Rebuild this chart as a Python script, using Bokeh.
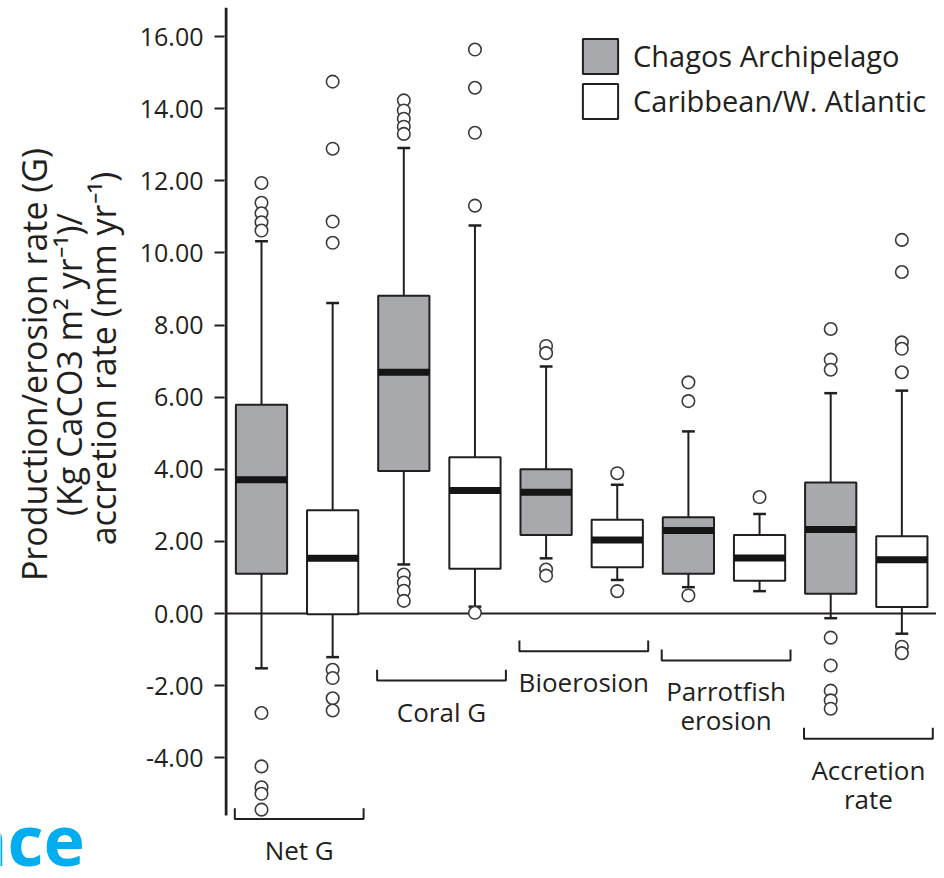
import math
from bokeh.plotting import figure
from bokeh.layouts import row
from bokeh.models import (ColumnDataSource, Range1d, FixedTicker, NumeralTickFormatter,
                          Span, Legend, LegendItem)
from bokeh.core.properties import value
from bokeh.embed import file_html
from bokeh.resources import INLINE

# ---------------- data ----------------
groups = ["Net G", "Coral G", "Bioerosion", "Parrotfish\nerosion", "Accretion\nrate"]
series = ["Chagos Archipelago", "Caribbean/W. Atlantic"]

chagos_low = [-1.52, 1.36, 1.53, 0.73, -0.13]
chagos_q1 = [1.10, 3.95, 2.18, 1.10, 0.55]
chagos_med = [3.71, 6.69, 3.36, 2.30, 2.33]
chagos_q3 = [5.79, 8.81, 4.00, 2.67, 3.63]
chagos_high = [10.32, 12.91, 6.85, 5.05, 6.11]
chagos_out = [
    [11.94, 11.39, 11.10, 10.85, 10.62, -2.76, -4.24, -4.82, -5.00, -5.44],
    [14.23, 13.95, 13.72, 13.50, 13.30, 1.08, 0.86, 0.63, 0.35],
    [7.42, 7.22, 1.22, 1.05],
    [6.41, 5.89, 0.50],
    [7.89, 7.04, 6.76, -0.67, -1.44, -2.14, -2.41, -2.64],
]

carib_low = [-1.21, 0.19, 0.93, 0.62, -0.56]
carib_q1 = [-0.02, 1.24, 1.28, 0.91, 0.18]
carib_med = [1.53, 3.41, 2.04, 1.54, 1.49]
carib_q3 = [2.86, 4.33, 2.60, 2.18, 2.14]
carib_high = [8.61, 10.76, 3.57, 2.76, 6.18]
carib_out = [
    [14.75, 12.89, 10.87, 10.28, -1.56, -1.79, -2.35, -2.69],
    [15.64, 14.58, 13.33, 11.31, 0.02],
    [3.89, 0.62],
    [3.23],
    [10.36, 9.47, 7.52, 7.34, 6.69, -0.92, -1.10],
]

y_ticks = [-4, -2, 0, 2, 4, 6, 8, 10, 12, 14, 16]
axis_extent = [-5.6, 16.8]
y_title = ["Production/erosion rate (G)", "(Kg CaCO3 m\u00b2 yr\u207b\u00b9)/",
           "accretion rate (mm yr\u207b\u00b9)"]
watermark = "nce"

# ---------------- layout / style ----------------
DARK = "#231f20"
GREY = "#a7a9ac"
FONT = "Open Sans"
PX_X = 71.15           # pixels per x unit
PX_Y = 36.06           # pixels per y unit
BOX_W = 0.72
CAP_W = 0.09
bracket_levels = [-5.70, -1.86, -1.05, -1.30, -3.47]
bracket_tick = 0.30
bracket_half = 0.905
first_off = 31 / PX_Y
line_step = 29 / PX_Y

H = 870
W_TOTAL = 936
W_SIDE = 130
W_MAIN = W_TOTAL - W_SIDE
FRAME_LEFT = 224
BORDER = FRAME_LEFT - W_SIDE
x0 = 1 - (261 - FRAME_LEFT) / PX_X
x1 = x0 + (W_MAIN - BORDER) / PX_X
y_top = 613 / PX_Y
y_bot = y_top - H / PX_Y

# ---------- side panel: axis title lines and watermark ----------
side = figure(width=W_SIDE, height=H, output_backend="svg", toolbar_location=None,
              x_range=Range1d(0, W_SIDE), y_range=Range1d(0, H),
              x_axis_location=None, y_axis_location=None,
              min_border_left=0, min_border_right=0, min_border_top=0, min_border_bottom=0)
side.outline_line_color = None
side.xgrid.grid_line_color = None
side.ygrid.grid_line_color = None
side.text(x=[33, 68, 102], y=[H - 364, H - 364, H - 358], text=y_title, angle=math.pi / 2,
          text_font=value(FONT), text_font_size="34px", text_color=DARK,
          text_align="center", text_baseline="middle")
side.text(x=[-39], y=[H - 838], text=[watermark], text_font=value(FONT),
          text_font_style="bold", text_font_size="70px", text_color="#00aeef",
          text_align="left", text_baseline="alphabetic")

# ---------- main plot ----------
p = figure(width=W_MAIN, height=H, output_backend="svg", toolbar_location=None,
           x_range=Range1d(x0, x1), y_range=Range1d(y_bot, y_top),
           x_axis_location=None, y_axis_location="left",
           min_border_left=BORDER, min_border_right=0, min_border_top=0, min_border_bottom=0)
p.outline_line_color = None
p.xgrid.grid_line_color = None
p.ygrid.grid_line_color = None

ax = p.yaxis[0]
ax.ticker = FixedTicker(ticks=y_ticks)
ax.formatter = NumeralTickFormatter(format="0.00")
ax.axis_line_color = None
ax.major_tick_out = 10
ax.major_tick_in = 0
ax.major_tick_line_width = 2
ax.major_tick_line_color = DARK
ax.minor_tick_line_color = None
ax.major_label_text_font = FONT
ax.major_label_text_font_size = "25px"
ax.major_label_text_color = DARK
ax.major_label_standoff = 11

p.add_layout(Span(location=0, dimension="width", line_color=DARK, line_width=2, level="underlay"))

ax_x = x0 + 1.5 / PX_X
p.segment(x0=[ax_x], y0=[axis_extent[0]], x1=[ax_x], y1=[axis_extent[1]],
          line_color=DARK, line_width=3)


def boxes(offset, low, q1, med, q3, high, outs, fill):
    xs = [2 * i + offset for i in range(len(groups))]
    src = ColumnDataSource(dict(x=xs, low=low, q1=q1, med=med, q3=q3, high=high,
                                l=[x - BOX_W / 2 for x in xs], r=[x + BOX_W / 2 for x in xs],
                                cl=[x - CAP_W for x in xs], cr=[x + CAP_W for x in xs]))
    p.segment(x0="x", y0="q3", x1="x", y1="high", source=src, line_color=DARK, line_width=2)
    p.segment(x0="x", y0="q1", x1="x", y1="low", source=src, line_color=DARK, line_width=2)
    p.segment(x0="cl", y0="high", x1="cr", y1="high", source=src, line_color=DARK, line_width=2.5)
    p.segment(x0="cl", y0="low", x1="cr", y1="low", source=src, line_color=DARK, line_width=2.5)
    r = p.vbar(x="x", width=BOX_W, bottom="q1", top="q3", source=src,
               fill_color=fill, line_color=DARK, line_width=2)
    p.segment(x0="l", y0="med", x1="r", y1="med", source=src, line_color="#151515",
              line_width=7, line_cap="butt")
    ox, oy = [], []
    for x, o in zip(xs, outs):
        ox += [x] * len(o)
        oy += o
    p.scatter(x=ox, y=oy, marker="circle", size=12.5, fill_color="white",
              line_color="#3a3a3a", line_width=1.6)
    return r


r_ch = boxes(1, chagos_low, chagos_q1, chagos_med, chagos_q3, chagos_high, chagos_out, GREY)
r_cb = boxes(2, carib_low, carib_q1, carib_med, carib_q3, carib_high, carib_out, "white")

# group brackets and labels
bx, by, tx, ty, tt = [], [], [], [], []
for i, (g, lev) in enumerate(zip(groups, bracket_levels)):
    c = 2 * i + 1.5 + 0.03
    bx.append([c - bracket_half, c - bracket_half, c + bracket_half, c + bracket_half])
    by.append([lev + bracket_tick, lev, lev, lev + bracket_tick])
    for j, line in enumerate(g.split("\n")):
        tx.append(c)
        ty.append(lev - first_off - line_step * j)
        tt.append(line)
p.multi_line(xs=bx, ys=by, line_color=DARK, line_width=2)
p.text(x=tx, y=ty, text=tt, text_font=value(FONT), text_font_size="26px",
       text_color=DARK, text_align="center", text_baseline="middle")

legend = Legend(items=[LegendItem(label=series[0], renderers=[r_ch]),
                       LegendItem(label=series[1], renderers=[r_cb])],
                location=(354, H - 122.6), orientation="vertical",
                glyph_width=44, glyph_height=44, spacing=1, padding=0, margin=0,
                border_line_color=None, background_fill_alpha=0,
                label_text_font=FONT, label_text_font_size="29px",
                label_text_color=DARK, label_standoff=11)
p.add_layout(legend)

layout = row(side, p, spacing=0)
open("out.html", "w").write(file_html(layout, INLINE))
